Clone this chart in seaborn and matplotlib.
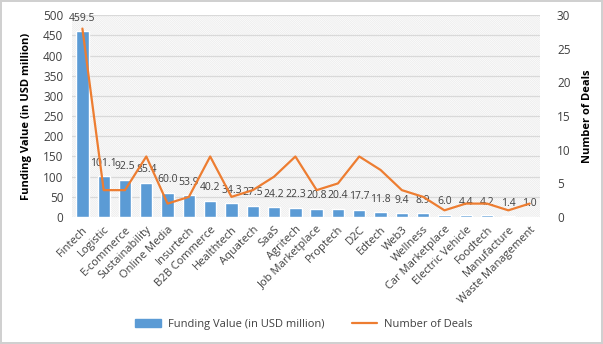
import matplotlib
matplotlib.use("Agg")
import matplotlib.pyplot as plt
import seaborn as sns
from matplotlib.patches import Rectangle
from matplotlib.lines import Line2D

categories = ["Fintech", "Logistic", "E-commerce", "Sustainability", "Online Media", "Insurtech",
              "B2B Commerce", "Healthtech", "Aquatech", "SaaS", "Agritech", "Job Marketplace",
              "Proptech", "D2C", "Edtech", "Web3", "Wellness", "Car Marketplace",
              "Electric Vehicle", "Foodtech", "Manufacture", "Waste Management"]
funding = [459.5, 101.1, 92.5, 85.4, 60.0, 53.9, 40.2, 34.3, 27.5, 24.2, 22.3, 20.8,
           20.4, 17.7, 11.8, 9.4, 8.9, 6.0, 4.4, 4.2, 1.4, 1.0]
deals = [28, 4, 4, 9, 2, 3, 9, 3, 4, 6, 9, 4, 5, 9, 7, 4, 3, 1, 2, 2, 1, 2]
left_ticks = [0, 50, 100, 150, 200, 250, 300, 350, 400, 450, 500]
right_ticks = [0, 5, 10, 15, 20, 25, 30]

sns.set_theme(style="white")
plt.rcParams['font.family'] = ['Open Sans', 'DejaVu Sans']
plt.rcParams['hatch.linewidth'] = 0.6

BAR = "#5B9BD5"
LINE = "#ED7D31"
TXT = "#404040"

fig = plt.figure(figsize=(6.03, 3.44), dpi=100)
fig.patch.set_edgecolor("#d0d0d0")
fig.patch.set_linewidth(1.5)
ax = fig.add_axes([0.119, 0.369, 0.777, 0.587])

ax.add_patch(Rectangle((0, 0), 1, 1, transform=ax.transAxes, facecolor="white",
                       edgecolor="#ececec", hatch="\\" * 16, linewidth=0, zorder=0.2))
for t in left_ticks[1:]:
    ax.axhline(t, color="#d9d9d9", lw=0.9, zorder=0.5)

sns.barplot(x=categories, y=funding, color=BAR, width=0.58, saturation=1, ax=ax, zorder=2)
ax.set_ylim(0, 500)
ax.set_yticks(left_ticks)
ax.set_xlim(-0.5, len(categories) - 0.5)
ax.set_ylabel("Funding Value (in USD million)", fontsize=8, fontweight="bold", color="black",
              labelpad=8)
ax.set_xlabel("")
ax.tick_params(axis="y", labelsize=8.5, colors=TXT, length=0, pad=6)
ax.tick_params(axis="x", labelsize=8, colors=TXT, length=0, pad=5)
plt.setp(ax.get_xticklabels(), rotation=45, ha="right", rotation_mode="anchor")
for s in ax.spines.values():
    s.set_visible(False)

for i, v in enumerate(funding):
    ax.annotate(f"{v:.1f}", (i, v), xytext=(0, 5.5), textcoords="offset points",
                ha="center", va="bottom", fontsize=7.5, color=TXT, zorder=5,
                annotation_clip=False)

ax2 = ax.twinx()
sns.lineplot(x=list(range(len(categories))), y=deals, color=LINE, lw=1.6, ax=ax2, zorder=3)
ax2.set_ylim(0, 30)
ax2.set_yticks(right_ticks)
ax2.set_ylabel("Number of Deals", fontsize=8, fontweight="bold", color="black", labelpad=8)
ax2.tick_params(axis="y", labelsize=8.5, colors=TXT, length=0, pad=12)
for s in ax2.spines.values():
    s.set_visible(False)
ax2.grid(False)

handles = [Rectangle((0, 0), 1, 1, color=BAR), Line2D([0], [0], color=LINE, lw=1.6)]
fig.legend(handles, ["Funding Value (in USD million)", "Number of Deals"],
           loc="center", bbox_to_anchor=(0.504, 0.058), ncol=2, frameon=False,
           fontsize=8, labelcolor=TXT, columnspacing=2.5, handlelength=2.3, handletextpad=0.6)

fig.savefig("out.png", dpi=100)
